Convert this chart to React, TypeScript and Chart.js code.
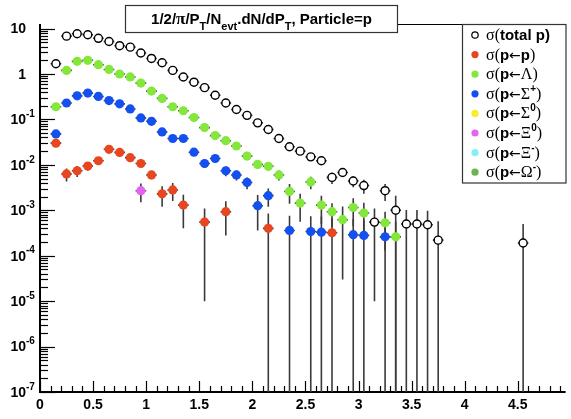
import React, { useEffect, useRef } from "react";
import { Chart, registerables } from "chart.js";
Chart.register(...registerables);

// ---------- data ----------
const totalPt = [0.15, 0.25, 0.35, 0.45, 0.55, 0.65, 0.75, 0.85, 0.95, 1.05, 1.15, 1.25, 1.35, 1.45, 1.55, 1.65, 1.75, 1.85, 1.95, 2.05, 2.15, 2.25, 2.35, 2.45, 2.55, 2.65, 2.75, 2.85, 2.95, 3.05, 3.15, 3.25, 3.35, 3.45, 3.55, 3.65, 3.75, 4.55];
const totalVal = [1.68, 6.8, 7.7, 7.3, 6.1, 5.2, 4.2, 3.9, 2.9, 2.2, 1.77, 1.2, 0.86, 0.66, 0.5, 0.34, 0.23, 0.165, 0.123, 0.084, 0.06, 0.038, 0.025, 0.02, 0.015, 0.0123, 0.0053, 0.0068, 0.0044, 0.0035, 0.00055, 0.0027, 0.001, 0.0005, 0.0005, 0.00048, 0.00022, 0.00019];
const totalErr = [0.03, 0.05, 0.06, 0.06, 0.05, 0.05, 0.04, 0.04, 0.04, 0.03, 0.03, 0.03, 0.02, 0.02, 0.015, 0.012, 0.009, 0.007, 0.006, 0.005, 0.004, 0.003, 0.0025, 0.0022, 0.002, 0.0018, 0.0015, 0.0012, 0.0012, 0.0012, 0.00054, 0.0011, 0.0011, 0.00052, 0.00052, 0.0005, 0.00035, 0.00031];

const ppPt = [0.15, 0.25, 0.35, 0.45, 0.55, 0.65, 0.75, 0.85, 0.95, 1.05, 1.15, 1.25, 1.35, 1.55, 1.75, 2.15, 2.75];
const ppVal = [0.03, 0.0063, 0.0074, 0.0094, 0.0123, 0.022, 0.0188, 0.0144, 0.0107, 0.006, 0.0023, 0.0028, 0.0013, 0.00055, 0.00093, 0.0004, 0.00032];
const ppErr = [0.002, 0.002, 0.002, 0.002, 0.002, 0.002, 0.0018, 0.0016, 0.0014, 0.0012, 0.0011, 0.0012, 0.0009, 0.00054, 0.00065, 0.00045, 0.00036];

const lamPt = [0.15, 0.25, 0.35, 0.45, 0.55, 0.65, 0.75, 0.85, 0.95, 1.05, 1.15, 1.25, 1.35, 1.45, 1.55, 1.65, 1.75, 1.85, 1.95, 2.05, 2.15, 2.25, 2.35, 2.45, 2.55, 2.65, 2.75, 2.85, 2.95, 3.05, 3.25, 3.35];
const lamVal = [0.19, 1.2, 1.9, 2.0, 1.6, 1.26, 1.0, 0.86, 0.63, 0.42, 0.29, 0.19, 0.155, 0.11, 0.066, 0.044, 0.034, 0.026, 0.0156, 0.0102, 0.0093, 0.006, 0.0026, 0.00144, 0.0042, 0.0013, 0.00093, 0.00062, 0.00115, 0.00087, 0.00053, 0.00026];
const lamErr = [0.01, 0.03, 0.04, 0.04, 0.035, 0.03, 0.03, 0.025, 0.02, 0.015, 0.012, 0.01, 0.009, 0.007, 0.005, 0.004, 0.0035, 0.003, 0.0025, 0.002, 0.0018, 0.0015, 0.0012, 0.00088, 0.0013, 0.0008, 0.0005, 0.00059, 0.0007, 0.0006, 0.0004, 0.0003];

const sigPPt = [0.15, 0.25, 0.35, 0.45, 0.55, 0.65, 0.75, 0.85, 0.95, 1.05, 1.15, 1.25, 1.35, 1.45, 1.55, 1.65, 1.75, 1.85, 1.95, 2.05, 2.15, 2.35, 2.55, 2.65, 2.95, 3.05, 3.25];
const sigPVal = [0.048, 0.23, 0.33, 0.38, 0.32, 0.26, 0.22, 0.17, 0.108, 0.091, 0.053, 0.038, 0.038, 0.019, 0.0107, 0.0138, 0.0074, 0.006, 0.0041, 0.00126, 0.0021, 0.00036, 0.00034, 0.00033, 0.00029, 0.00028, 0.00026];
const sigPErr = [0.004, 0.01, 0.012, 0.013, 0.012, 0.011, 0.01, 0.009, 0.007, 0.006, 0.005, 0.004, 0.004, 0.003, 0.0022, 0.0025, 0.0018, 0.0015, 0.0012, 0.0009, 0.0009, 0.0004, 0.0004, 0.0004, 0.00035, 0.00034, 0.0003];

const sig0Pt: number[] = [];
const sig0Val: number[] = [];
const sig0Err: number[] = [];

const xi0Pt = [0.95];
const xi0Val = [0.0027];
const xi0Err = [0.0012];

const xiMPt: number[] = [];
const xiMVal: number[] = [];
const xiMErr: number[] = [];

const omPt: number[] = [];
const omVal: number[] = [];
const omErr: number[] = [];

const xTickValues = [0, 0.5, 1, 1.5, 2, 2.5, 3, 3.5, 4, 4.5];
const xTickLabels = ["0", "0.5", "1", "1.5", "2", "2.5", "3", "3.5", "4", "4.5"];
const yTickValues = [1e-7, 1e-6, 1e-5, 1e-4, 1e-3, 1e-2, 1e-1, 1, 10];
const yTickBase = ["10", "10", "10", "10", "10", "10", "10", "1", "10"];
const yTickExp = ["-7", "-6", "-5", "-4", "-3", "-2", "-1", "", ""];

const seriesColors = ["#000000", "#e8461e", "#84e83c", "#1450f0", "#f5ee28", "#e464f0", "#86eef8", "#6cb450"];

const SANS = '"Liberation Sans", Arial, sans-serif';
const SERIF = '"Liberation Serif", "Times New Roman", serif';

type Seg = [string, string, number?];
const B = "bold 15px " + SANS;
const S = "16px " + SERIF;
const A = '14px "DejaVu Sans", sans-serif';
const SUP = "bold 10px " + SANS;
const legendLabels: Seg[][] = [
  [["σ(", S], ["total p", B], [")", B]],
  [["σ(", S], ["p", B], ["←", A], ["p", B], [")", S]],
  [["σ(", S], ["p", B], ["←", A], ["Λ", S], [")", S]],
  [["σ(", S], ["p", B], ["←", A], ["Σ", S], ["+", SUP, -7], [")", S]],
  [["σ(", S], ["p", B], ["←", A], ["Σ", S], ["0", SUP, -7], [")", S]],
  [["σ(", S], ["p", B], ["←", A], ["Ξ", S], ["0", SUP, -7], [")", S]],
  [["σ(", S], ["p", B], ["←", A], ["Ξ", S], ["-", SUP, -7], [")", S]],
  [["σ(", S], ["p", B], ["←", A], ["Ω", S], ["-", SUP, -7], [")", S]],
];

const TM = "bold 15px " + SANS;
const TS = "bold 11px " + SANS;
const titleSegs: Seg[] = [
  ["1/2/", TM], ["π", "bold 17px " + SERIF], ["/P", TM], ["T", TS, 6], ["/N", TM], ["evt", TS, 6],
  [".dN/dP", TM], ["T", TS, 6], [", Particle=p", TM],
];

function segWidth(ctx: CanvasRenderingContext2D, segs: Seg[]) {
  let w = 0;
  for (const s of segs) { ctx.font = s[1]; w += ctx.measureText(s[0]).width; }
  return w;
}
function drawSegs(ctx: CanvasRenderingContext2D, segs: Seg[], x: number, y: number) {
  ctx.textAlign = "left";
  ctx.textBaseline = "alphabetic";
  for (const s of segs) {
    ctx.font = s[1];
    ctx.fillText(s[0], x, y + (s[2] || 0));
    x += ctx.measureText(s[0]).width;
  }
}

function mk(label: string, pts: number[], vals: number[], errs: number[], color: string, hollow = false) {
  return {
    label,
    data: pts.map((p, i) => ({ x: p, y: vals[i] })),
    errors: errs,
    showLine: false,
    pointRadius: hollow ? 4 : 4.6,
    pointHoverRadius: hollow ? 4 : 4.6,
    pointBackgroundColor: hollow ? "#ffffff" : color,
    pointBorderColor: color,
    pointBorderWidth: hollow ? 1.4 : 0,
  };
}

const errorBarPlugin = {
  id: "errbars",
  beforeDatasetsDraw(chart: any) {
    const { ctx, chartArea, scales } = chart;
    const x = scales.x, y = scales.y;
    ctx.save();
    ctx.beginPath();
    ctx.rect(chartArea.left, chartArea.top, chartArea.right - chartArea.left, chartArea.bottom - chartArea.top);
    ctx.clip();
    ctx.strokeStyle = "#3a3a3a";
    ctx.lineWidth = 1.6;
    chart.data.datasets.forEach((ds: any) => {
      const errs = ds.errors || [];
      ds.data.forEach((p: any, i: number) => {
        const e = errs[i] || 0;
        const px = x.getPixelForValue(p.x);
        const lo = p.y - e > y.min ? p.y - e : y.min;
        const yt = y.getPixelForValue(p.y + e);
        const yb = y.getPixelForValue(lo);
        ctx.beginPath();
        ctx.moveTo(px, yt);
        ctx.lineTo(px, yb);
        ctx.stroke();
        const py = y.getPixelForValue(p.y);
        ctx.beginPath();
        ctx.moveTo(x.getPixelForValue(p.x - 0.05), py);
        ctx.lineTo(x.getPixelForValue(p.x + 0.05), py);
        ctx.stroke();
      });
    });
    ctx.restore();
  },
};

const framePlugin = {
  id: "frame",
  beforeDatasetsDraw(chart: any) {
    const { ctx, chartArea, scales } = chart;
    const x = scales.x, y = scales.y;
    const L = chartArea.left, Bt = chartArea.bottom, T = chartArea.top;
    ctx.save();
    ctx.strokeStyle = "#000";
    ctx.lineWidth = 1.2;
    for (let k = 0; k <= 49; k++) {
      const v = k / 10;
      if (v > x.max) break;
      const px = Math.round(x.getPixelForValue(v)) + 0.5;
      const major = k % 5 === 0;
      ctx.beginPath();
      ctx.moveTo(px, Bt);
      ctx.lineTo(px, Bt - (major ? 11 : 6));
      ctx.stroke();
    }
    for (let n = -7; n <= 1; n++) {
      for (let m = 1; m <= 9; m++) {
        const v = m * Math.pow(10, n);
        if (v > y.max) break;
        const py = Math.round(y.getPixelForValue(v)) + 0.5;
        ctx.beginPath();
        ctx.moveTo(L, py);
        ctx.lineTo(L + (m === 1 ? 15 : 8), py);
        ctx.stroke();
      }
    }
    ctx.lineWidth = 2;
    ctx.beginPath();
    ctx.moveTo(L, T);
    ctx.lineTo(L, Bt);
    ctx.lineTo(chartArea.right, Bt);
    ctx.stroke();
    ctx.lineWidth = 1;
    ctx.beginPath();
    ctx.moveTo(398, T + 0.5);
    ctx.lineTo(462, T + 0.5);
    ctx.stroke();
    ctx.fillStyle = "#000";
    ctx.font = "bold 14px " + SANS;
    ctx.textAlign = "center";
    ctx.textBaseline = "middle";
    xTickValues.forEach((v, i) => {
      ctx.fillText(xTickLabels[i], x.getPixelForValue(v), 405);
    });
    yTickValues.forEach((v, i) => {
      const py = y.getPixelForValue(v);
      ctx.font = "bold 14px " + SANS;
      ctx.textAlign = "right";
      ctx.textBaseline = "middle";
      ctx.fillText(yTickBase[i], 26, py + 1);
      if (yTickExp[i]) {
        ctx.font = "bold 10px " + SANS;
        ctx.textAlign = "left";
        ctx.fillText(yTickExp[i], 26, py - 5);
      }
    });
    ctx.restore();
  },
  afterDraw(chart: any) {
    const ctx: CanvasRenderingContext2D = chart.ctx;
    ctx.save();
    ctx.fillStyle = "#fff";
    ctx.fillRect(125, 5, 273, 28);
    ctx.strokeStyle = "#333";
    ctx.lineWidth = 1.2;
    ctx.strokeRect(125.5, 5.5, 272, 27);
    ctx.fillStyle = "#000";
    const tw = segWidth(ctx, titleSegs);
    drawSegs(ctx, titleSegs, 261.5 - tw / 2, 24);
    ctx.fillStyle = "#fff";
    ctx.fillRect(462, 24, 104, 159);
    ctx.strokeStyle = "#333";
    ctx.lineWidth = 1.2;
    ctx.strokeRect(462.5, 24.5, 103.5, 158.5);
    chart.data.datasets.forEach((ds: any, i: number) => {
      const yc = 35 + i * 19.6;
      ctx.beginPath();
      ctx.arc(475, yc, ds.pointBorderWidth ? 3.2 : 3.6, 0, Math.PI * 2);
      ctx.fillStyle = ds.pointBackgroundColor;
      ctx.fill();
      if (ds.pointBorderWidth) {
        ctx.strokeStyle = ds.pointBorderColor;
        ctx.lineWidth = 1.2;
        ctx.stroke();
      }
      ctx.fillStyle = "#000";
      drawSegs(ctx, legendLabels[i], 486, yc + 5);
    });
    ctx.restore();
  },
};

export default function App() {
  const ref = useRef<HTMLCanvasElement | null>(null);
  useEffect(() => {
    if (!ref.current) return;
    const chart = new Chart(ref.current, {
      type: "scatter",
      data: {
        datasets: [
          mk("σ(total p)", totalPt, totalVal, totalErr, seriesColors[0], true),
          mk("σ(p←p)", ppPt, ppVal, ppErr, seriesColors[1]),
          mk("σ(p←Λ)", lamPt, lamVal, lamErr, seriesColors[2]),
          mk("σ(p←Σ+)", sigPPt, sigPVal, sigPErr, seriesColors[3]),
          mk("σ(p←Σ0)", sig0Pt, sig0Val, sig0Err, seriesColors[4]),
          mk("σ(p←Ξ0)", xi0Pt, xi0Val, xi0Err, seriesColors[5]),
          mk("σ(p←Ξ-)", xiMPt, xiMVal, xiMErr, seriesColors[6]),
          mk("σ(p←Ω-)", omPt, omVal, omErr, seriesColors[7]),
        ] as any,
      },
      options: {
        animation: false,
        responsive: false,
        devicePixelRatio: 1,
        layout: { padding: { left: 40, top: 24, right: 0, bottom: 27 } },
        plugins: { legend: { display: false }, title: { display: false }, tooltip: { enabled: false } },
        scales: {
          x: { type: "linear", min: 0, max: 4.95, display: false },
          y: { type: "logarithmic", min: 1e-7, max: 12.6, display: false },
        },
      } as any,
      plugins: [framePlugin, errorBarPlugin],
    });
    return () => chart.destroy();
  }, []);
  return (
    <div style={{ position: "fixed", left: 0, top: 0, width: 571, height: 419, background: "#fff" }}>
      <canvas ref={ref} width={571} height={419} />
    </div>
  );
}
